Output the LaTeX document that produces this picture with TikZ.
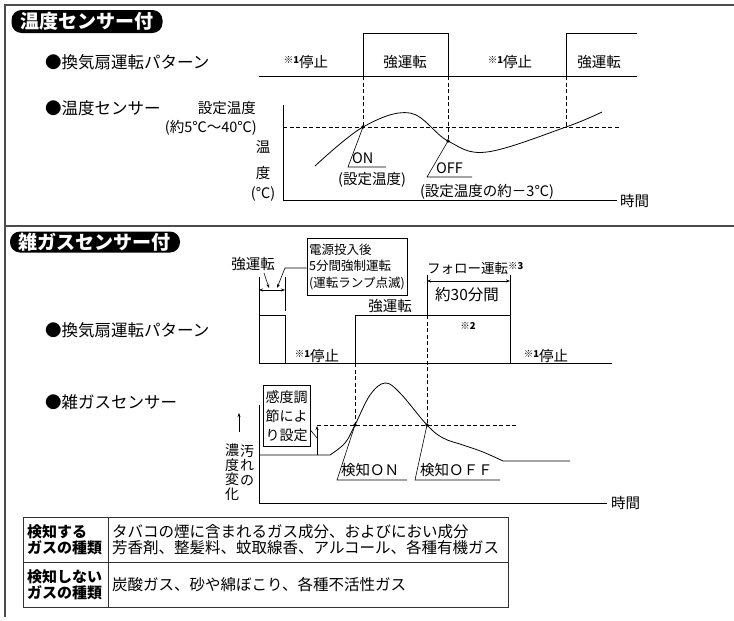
\documentclass[tikz,border=0pt]{standalone}
\usepackage{fontspec}
\setmainfont{Noto Sans CJK JP}
\usetikzlibrary{arrows.meta}
\newcommand{\fs}[1]{\fontsize{#1}{#1}\selectfont}
\newcommand{\komeno}[1]{\raisebox{4pt}{\fs{9.5}※\textbf{#1}}}
\tikzset{
  every node/.style={inner sep=0pt},
  badge/.style={fill=black, text=white, rounded corners=10pt, font=\fs{19}\bfseries, text height=16.7pt, text depth=2.3pt},
  head/.style={anchor=west, font=\fs{16.5}, text height=14.5pt, text depth=2pt},
  lbl/.style={font=\fs{14.5}, text height=12.8pt, text depth=1.7pt},
  sml/.style={font=\fs{13.5}, text height=11.9pt, text depth=1.6pt},
  big/.style={font=\fs{15.5}, text height=13.6pt, text depth=1.9pt},
  cellfont/.style={anchor=west, font=\fs{15.5}, text height=13.6pt, text depth=1.9pt},
  frame/.style={line width=1.4pt, draw=black!70},
  cell/.style={line width=0.9pt, draw=black!80},
  wave/.style={line width=0.8pt},
  guide/.style={line width=0.8pt, dash pattern=on 4pt off 2.5pt},
  tag/.style={line width=0.6pt},
  tip/.style={-{Stealth[length=4pt,width=3pt]}},
  dimline/.style={line width=0.6pt, {Stealth[length=4pt,width=3pt]}-{Stealth[length=4pt,width=3pt]}},
}
\begin{document}
\begin{tikzpicture}[x=1pt,y=-1pt]
\useasboundingbox (0,0) rectangle (734,621);
\draw[frame] (734,5) -- (5,5) -- (5,617);
\draw[frame] (5,226) -- (734,226);

% 温度センサー付
\node[badge, minimum width=151pt, minimum height=23pt] (title1) at (87,21.5) {温度センサー付};
\node[head] (fan1) at (45,62) {●換気扇運転パターン};
\node[head] (sens1) at (45,108) {●温度センサー};

\draw[wave] (259,76) -- (637,76);
\draw[wave] (363,76) -- (363,33) -- (448,33) -- (448,76);
\draw[wave] (566,76) -- (566,33) -- (637,33);
\node[lbl] (stop1a) at (306,62) {\komeno{1}停止};
\node[lbl] (run1a) at (405,62) {強運転};
\node[lbl] (stop1b) at (510,62) {\komeno{1}停止};
\node[lbl] (run1b) at (599,62) {強運転};

\node[lbl, anchor=east] (setp) at (256,108) {設定温度};
\node[lbl, anchor=east] (range) at (257,127) {(約5℃〜40℃)};
\node[lbl] (temp1) at (263,147) {温};
\node[lbl] (temp2) at (263,173) {度};
\node[lbl] (unit1) at (263,193) {(℃)};
\draw[wave] (283,105) -- (283,200) -- (617,200);
\node[lbl, anchor=west] (time1) at (620,201) {時間};

\coordinate (on1) at (363,127);
\coordinate (off1) at (448,141);
\coordinate (cross1) at (566,127);
\draw[guide] (283,127) -- (620,127);
\draw[guide] (363,76) -- (on1);
\draw[guide] (448,76) -- (off1);
\draw[guide] (566,76) -- (cross1);
\draw[wave] plot[smooth, tension=0.6] coordinates {(315,166) (on1) (410,113) (off1) (487,152) (cross1) (602,112)};
\foreach \p in {on1, off1}
  \fill (\p) circle (1.8pt);

\draw[tag] (on1) -- (348,167) -- (386,167);
\node[lbl, anchor=west] (onlbl) at (352,158) {ON};
\node[lbl] (onnote) at (372,179) {(設定温度)};
\draw[tag] (off1) -- (427,177) -- (472,177);
\node[lbl, anchor=west] (offlbl) at (436,168) {OFF};
\node[lbl] (offnote) at (487,191) {(設定温度の約－3℃)};

% 雑ガスセンサー付
\node[badge, minimum width=170pt, minimum height=21pt] (title2) at (95,242) {雑ガスセンサー付};
\node[head] (fan2) at (45,330) {●換気扇運転パターン};
\node[head] (sens2) at (45,402) {●雑ガスセンサー};

\draw[wave] (259,277) -- (259,363) -- (612,363);
\draw[wave] (259,315) -- (285,315) -- (285,363);
\draw[wave] (285,277) -- (285,311);
\draw[dimline] (259,290) -- (285,290);
\node[lbl] (runA) at (253,264) {強運転};
\draw[tag, tip] (264,273) -- (269,288);
\node[draw, line width=0.9pt, minimum width=100pt, minimum height=57pt, align=left, font=\fontsize{12.5}{16.5}\selectfont] (boot) at (357,266.5) {電源投入後\\5分間強制運転\\(運転ランプ点滅)};
\draw[tag, tip] (boot.west |- 0,268) -- (285,268) -- (277,288);

\draw[wave] (355,363) -- (355,315) -- (510,315);
\draw[wave] (510,275) -- (510,363);
\draw[wave] (427,275) -- (427,315);
\draw[dimline] (427,281) -- (510,281);
\node[sml, anchor=west] (follow) at (427,268) {フォロー運転\komeno{3}};
\node[big] (min30) at (467,295) {約30分間};
\node[lbl] (runB) at (390,306) {強運転};
\node[font=\fs{9.5}] (note2) at (468,326) {※\textbf{2}};
\node[lbl] (stop2a) at (317,356) {\komeno{1}停止};
\node[lbl] (stop2b) at (546,356) {\komeno{1}停止};

\coordinate (on2) at (355,425);
\coordinate (off2) at (427,425);
\draw[guide] (317,425) -- (516,425);
\draw[guide] (355,363) -- (on2);
\draw[guide] (427,315) -- (off2);
\draw[wave] (259,405) -- (259,503) -- (607,503);
\node[lbl, anchor=west] (time2) at (611,503) {時間};
\draw[wave] (259,455) -- (330,455) -- plot[smooth, tension=0.6] coordinates {(330,455) (345,443) (on2) (370,395) (385,383) (400,393) (off2) (443,438) (463,445) (483,452) (503,461)} -- (570,461);
\foreach \p in {on2, off2}
  \fill (\p) circle (1.8pt);

\node[draw, line width=0.9pt, minimum width=47pt, minimum height=61pt, align=center, font=\fontsize{14}{19}\selectfont] (sensbox) at (286.5,416) {感度調\\節によ\\り設定};
\draw[tag, tip] (317,455) -- (317,426);
\draw[tag] (sensbox.east |- 0,430) -- (317,438);

\draw[tag, tip] (239,432) -- (239,413);
\node[align=center, font=\fontsize{14}{14.5}\selectfont] (vleft) at (232,472) {濃\\度\\変\\化};
\node[align=center, font=\fontsize{14}{14.5}\selectfont] (vright) at (247,465) {汚\\れ\\の};

\draw[tag] (on2) -- (337,480) -- (407,480);
\node[lbl, anchor=west] (deton) at (341,470) {検知ＯＮ};
\draw[tag] (off2) -- (415,480) -- (500,480);
\node[lbl, anchor=west] (detoff) at (420,470) {検知ＯＦＦ};

% table
\draw[cell] (23,517) rectangle (508,607);
\draw[cell] (23,562) -- (508,562);
\draw[cell] (108,517) -- (108,607);
\node[cellfont, font=\fs{15}\bfseries] (h1a) at (27,532) {検知する};
\node[cellfont, font=\fs{15}\bfseries] (h1b) at (27,548) {ガスの種類};
\node[cellfont, font=\fs{15}\bfseries] (h2a) at (27,577) {検知しない};
\node[cellfont, font=\fs{15}\bfseries] (h2b) at (27,593) {ガスの種類};
\node[cellfont] (c1a) at (112,532) {タバコの煙に含まれるガス成分、およびにおい成分};
\node[cellfont] (c1b) at (112,548) {芳香剤、整髪料、蚊取線香、アルコール、各種有機ガス};
\node[cellfont] (c2) at (112,585) {炭酸ガス、砂や綿ぼこり、各種不活性ガス};
\end{tikzpicture}
\end{document}
